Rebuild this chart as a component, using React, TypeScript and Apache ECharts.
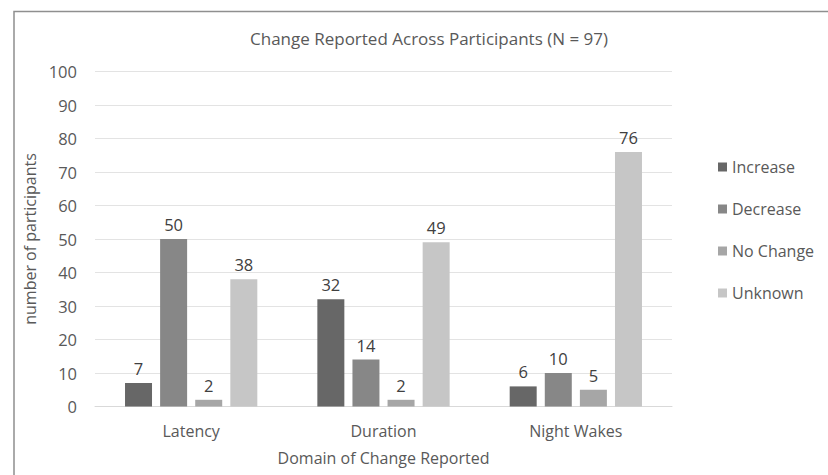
import React, { useEffect, useRef } from "react";
import * as echarts from "echarts";

const title = "Change Reported Across Participants (N = 97)";
const categories = ["Latency", "Duration", "Night Wakes"];
const seriesNames = ["Increase", "Decrease", "No Change", "Unknown"];
const increase = [7, 32, 6];
const decrease = [50, 14, 10];
const noChange = [2, 2, 5];
const unknown = [38, 49, 76];
const colors = ["#676767", "#878787", "#a6a6a6", "#c6c6c6"];
const yTicks = { min: 0, max: 100, interval: 10 };

const FONT = "'Open Sans', 'Noto Sans', sans-serif";

export default function App() {
  const ref = useRef<HTMLDivElement>(null);
  useEffect(() => {
    if (!ref.current) return;
    const chart = echarts.init(ref.current, undefined, { renderer: "svg" });
    const values = [increase, decrease, noChange, unknown];
    chart.setOption({
      animation: false,
      backgroundColor: "#ffffff",
      textStyle: { fontFamily: FONT },
      title: {
        text: title,
        left: 245,
        top: 25,
        textStyle: { fontFamily: FONT, fontSize: 17, fontWeight: "normal", color: "#595959" },
      },
      graphic: [
        {
          type: "rect",
          shape: { x: 14, y: 11.5, width: 900, height: 600 },
          style: { fill: "none", stroke: "#8f8f8f", lineWidth: 1.5 },
          silent: true,
        },
      ],
      legend: {
        orient: "vertical",
        left: 713,
        top: 154,
        itemGap: 26,
        itemWidth: 9,
        itemHeight: 9,
        icon: "rect",
        data: seriesNames,
        textStyle: { fontFamily: FONT, fontSize: 16, color: "#595959", padding: [0, 0, 0, 0] },
      },
      grid: { left: 95, right: 156, top: 71.5, bottom: 68.5 },
      xAxis: {
        type: "category",
        data: categories,
        name: "Domain of Change Reported",
        nameLocation: "middle",
        nameGap: 43.5,
        nameTextStyle: { fontFamily: FONT, fontSize: 16, color: "#595959" },
        axisLine: { show: true, lineStyle: { color: "#d9d9d9", width: 1 } },
        axisTick: { show: false },
        axisLabel: { fontFamily: FONT, fontSize: 16, color: "#595959", margin: 16 },
      },
      yAxis: {
        type: "value",
        min: yTicks.min,
        max: yTicks.max,
        interval: yTicks.interval,
        name: "number of participants",
        nameLocation: "middle",
        nameGap: 53,
        nameTextStyle: { fontFamily: FONT, fontSize: 16, color: "#595959" },
        axisLine: { show: false },
        axisTick: { show: false },
        axisLabel: { fontFamily: FONT, fontSize: 16.5, color: "#595959", margin: 18 },
        splitLine: { lineStyle: { color: "#e3e3e3", width: 1 } },
      },
      series: seriesNames.map((name, i) => ({
        name,
        type: "bar",
        data: values[i],
        barWidth: 27,
        barGap: "30%",
        itemStyle: { color: colors[i] },
        label: {
          show: true,
          position: "top",
          distance: 6,
          fontFamily: FONT,
          fontSize: 16.5,
          color: "#404040",
        },
      })),
    });
    return () => chart.dispose();
  }, []);
  return (
    <div
      ref={ref}
      style={{ position: "fixed", left: 0, top: 0, width: 828, height: 475 }}
    />
  );
}
